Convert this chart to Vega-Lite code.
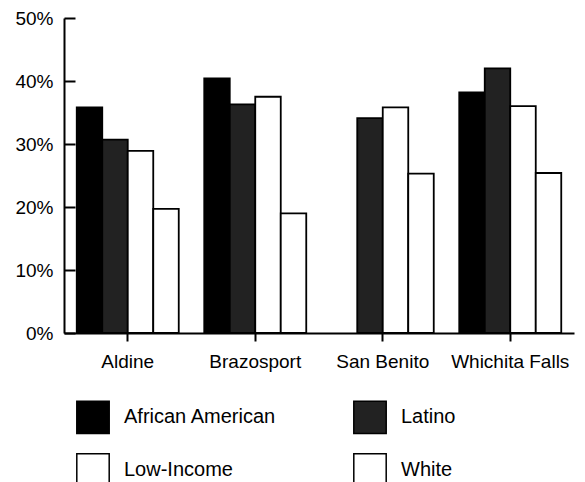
{
  "$schema": "https://vega.github.io/schema/vega-lite/v6.json",
  "autosize": "none",
  "width": 510,
  "height": 315,
  "padding": {"left": 64, "top": 18, "right": 11, "bottom": 149},
  "background": "white",
  "config": {
    "view": {"stroke": null},
    "font": "Liberation Sans",
    "axis": {"grid": false, "domainColor": "black", "tickColor": "black", "labelColor": "black", "labelFont": "Liberation Sans", "labelFontSize": 19, "domainWidth": 2, "tickWidth": 2}
  },
  "data": {
    "values": [
      {"site": "Aldine", "group": "African American", "value": 0.358},
      {"site": "Aldine", "group": "Latino", "value": 0.307},
      {"site": "Aldine", "group": "Low-Income", "value": 0.289},
      {"site": "Aldine", "group": "White", "value": 0.197},
      {"site": "Brazosport", "group": "African American", "value": 0.404},
      {"site": "Brazosport", "group": "Latino", "value": 0.363},
      {"site": "Brazosport", "group": "Low-Income", "value": 0.375},
      {"site": "Brazosport", "group": "White", "value": 0.190},
      {"site": "San Benito", "group": "Latino", "value": 0.341},
      {"site": "San Benito", "group": "Low-Income", "value": 0.358},
      {"site": "San Benito", "group": "White", "value": 0.253},
      {"site": "Whichita Falls", "group": "African American", "value": 0.382},
      {"site": "Whichita Falls", "group": "Latino", "value": 0.420},
      {"site": "Whichita Falls", "group": "Low-Income", "value": 0.360},
      {"site": "Whichita Falls", "group": "White", "value": 0.254}
    ]
  },
  "mark": {"type": "bar", "stroke": "black", "strokeWidth": 1.8},
  "encoding": {
    "x": {
      "field": "site", "type": "nominal", "sort": null,
      "scale": {"paddingInner": 0.2, "paddingOuter": 0.1},
      "axis": {"title": null, "labelAngle": 0, "tickSize": 8, "labelPadding": 11}
    },
    "xOffset": {
      "field": "group", "type": "nominal",
      "sort": ["African American", "Latino", "Low-Income", "White"],
      "scale": {"paddingInner": 0, "paddingOuter": 0}
    },
    "y": {
      "field": "value", "type": "quantitative",
      "scale": {"domain": [0, 0.5], "nice": false},
      "axis": {
        "title": null, "format": ".0%", "values": [0, 0.1, 0.2, 0.3, 0.4, 0.5],
        "tickSize": -11, "labelPadding": 22
      }
    },
    "color": {
      "field": "group", "type": "nominal",
      "sort": ["African American", "Latino", "Low-Income", "White"],
      "scale": {"domain": ["African American", "Latino", "Low-Income", "White"], "range": ["#000000", "#222222", "#ffffff", "#ffffff"]},
      "legend": {
        "title": null, "orient": "none", "legendX": 12, "legendY": 382,
        "direction": "horizontal",
        "columns": 2, "columnPadding": 73, "rowPadding": 13,
        "symbolType": "square", "symbolSize": 1050, "symbolStrokeColor": "black", "symbolStrokeWidth": 1.5, "symbolOpacity": 1,
        "labelFont": "Liberation Sans", "labelFontSize": 20, "labelColor": "black", "labelOffset": 14
      }
    }
  }
}
